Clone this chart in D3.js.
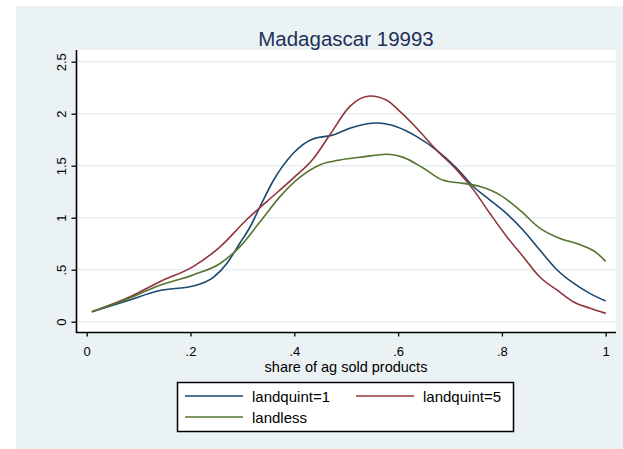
<!DOCTYPE html>
<html>
<head>
<meta charset="utf-8">
<script src="https://cdn.jsdelivr.net/npm/d3@7"></script>
<style>
  html, body { margin: 0; padding: 0; background: #ffffff; }
  svg { display: block; }
  text { font-family: "Liberation Sans", Arial, sans-serif; }
</style>
</head>
<body>
<svg id="chart" width="623" height="449"></svg>
<script>
// ---- data ----
const title = "Madagascar 19993";
const xLabel = "share of ag sold products";
const xTicks = [0, 0.2, 0.4, 0.6, 0.8, 1];
const xTickLabels = ["0", ".2", ".4", ".6", ".8", "1"];
const yTicks = [0, 0.5, 1, 1.5, 2, 2.5];
const yTickLabels = ["0", ".5", "1", "1.5", "2", "2.5"];
const seriesNames = ["landquint=1", "landquint=5", "landless"];
const seriesColors = ["#1a476f", "#90353b", "#55752f"];

const q1X = [0.01, 0.077, 0.141, 0.205, 0.244, 0.27, 0.295, 0.315, 0.334, 0.36, 0.398, 0.437, 0.475, 0.507, 0.559, 0.597, 0.636, 0.674, 0.713, 0.745, 0.777, 0.809, 0.841, 0.873, 0.906, 0.938, 0.97, 1.0];
const q1Y = [0.096, 0.20, 0.30, 0.343, 0.427, 0.56, 0.754, 0.913, 1.106, 1.36, 1.62, 1.76, 1.795, 1.86, 1.91, 1.875, 1.78, 1.65, 1.475, 1.30, 1.17, 1.04, 0.88, 0.69, 0.50, 0.37, 0.27, 0.20];

const q5X = [0.01, 0.077, 0.141, 0.205, 0.257, 0.308, 0.347, 0.398, 0.437, 0.469, 0.507, 0.546, 0.578, 0.604, 0.636, 0.674, 0.713, 0.745, 0.777, 0.809, 0.841, 0.873, 0.906, 0.938, 0.97, 1.0];
const q5Y = [0.096, 0.225, 0.385, 0.53, 0.72, 0.98, 1.155, 1.38, 1.57, 1.80, 2.07, 2.17, 2.13, 2.02, 1.86, 1.65, 1.46, 1.27, 1.04, 0.82, 0.625, 0.43, 0.305, 0.19, 0.13, 0.08];

const llX = [0.01, 0.077, 0.141, 0.205, 0.257, 0.295, 0.334, 0.372, 0.411, 0.45, 0.488, 0.533, 0.578, 0.61, 0.649, 0.687, 0.726, 0.758, 0.796, 0.835, 0.873, 0.912, 0.951, 0.983, 1.0];
const llY = [0.096, 0.215, 0.35, 0.45, 0.56, 0.72, 0.96, 1.20, 1.39, 1.51, 1.555, 1.585, 1.61, 1.58, 1.475, 1.36, 1.33, 1.30, 1.22, 1.07, 0.90, 0.80, 0.74, 0.66, 0.58];

const seriesX = [q1X, q5X, llX];
const seriesY = [q1Y, q5Y, llY];

// ---- drawing ----
const svg = d3.select("#chart");

// outer graph region
svg.append("rect").attr("x", 16).attr("y", 6).attr("width", 607).attr("height", 443).attr("fill", "#eaf2f3");

// plot region
const plot = { left: 76, right: 616, top: 50, bottom: 333 };
svg.append("rect").attr("x", plot.left).attr("y", plot.top)
  .attr("width", plot.right - plot.left).attr("height", plot.bottom - plot.top).attr("fill", "#ffffff");

const x = d3.scaleLinear().domain([0, 1]).range([86.7, 605.7]);
const y = d3.scaleLinear().domain([0, 2.5]).range([321.7, 61.7]);

// gridlines
svg.append("g").selectAll("line").data(yTicks).join("line")
  .attr("x1", plot.left + 1).attr("x2", plot.right)
  .attr("y1", d => y(d)).attr("y2", d => y(d))
  .attr("stroke", "#e6eef0").attr("stroke-width", 1.5);

// curves
const line = d3.line().x(d => x(d[0])).y(d => y(d[1])).curve(d3.curveMonotoneX);
seriesNames.forEach((name, i) => {
  const pts = seriesX[i].map((v, j) => [v, seriesY[i][j]]);
  svg.append("path").datum(pts).attr("d", line)
    .attr("fill", "none").attr("stroke", seriesColors[i]).attr("stroke-width", 1.6);
});

// axes
const xAxis = d3.axisBottom(x).tickValues(xTicks)
  .tickFormat((d, i) => xTickLabels[i]).tickSize(4).tickSizeOuter(0);
const gx = svg.append("g").attr("transform", `translate(0,${plot.bottom - 0.5})`).call(xAxis);
gx.select(".domain").attr("d", `M${plot.left},0H${plot.right}`).attr("stroke", "#000").attr("stroke-width", 1.6);
gx.selectAll(".tick line").attr("stroke", "#000").attr("stroke-width", 1.3);
gx.selectAll(".tick text").attr("y", 0).attr("dy", 0).attr("transform", "translate(0,23)")
  .attr("font-size", 13).attr("fill", "#000").attr("font-family", "Liberation Sans, Arial, sans-serif");

const yAxis = d3.axisLeft(y).tickValues(yTicks)
  .tickFormat((d, i) => yTickLabels[i]).tickSize(5).tickSizeOuter(0);
const gy = svg.append("g").attr("transform", `translate(${plot.left + 0.5},0)`).call(yAxis);
gy.select(".domain").attr("d", `M0,${plot.top}V${plot.bottom}`).attr("stroke", "#000").attr("stroke-width", 1.6);
gy.selectAll(".tick line").attr("stroke", "#000").attr("stroke-width", 1.3);
gy.selectAll(".tick text").attr("x", 0).attr("dy", 0)
  .attr("transform", "translate(-11,0) rotate(-90)")
  .attr("text-anchor", "middle").attr("font-size", 13).attr("fill", "#000")
  .attr("font-family", "Liberation Sans, Arial, sans-serif");

// title
svg.append("text").attr("x", 346).attr("y", 46).attr("text-anchor", "middle")
  .attr("font-size", 20.5).attr("fill", "#1f3057").text(title);

// x label
svg.append("text").attr("x", 346).attr("y", 372).attr("text-anchor", "middle")
  .attr("font-size", 14.5).attr("fill", "#000").text(xLabel);

// legend
const lg = svg.append("g");
lg.append("rect").attr("x", 177.5).attr("y", 382.5).attr("width", 336).attr("height", 49)
  .attr("fill", "#ffffff").attr("stroke", "#000").attr("stroke-width", 1.5);
const legendPos = [
  { lx: 185, ly: 396, tx: 252 },
  { lx: 356, ly: 396, tx: 423 },
  { lx: 185, ly: 417, tx: 252 }
];
seriesNames.forEach((name, i) => {
  const p = legendPos[i];
  lg.append("line").attr("x1", p.lx).attr("x2", p.lx + 58).attr("y1", p.ly).attr("y2", p.ly)
    .attr("stroke", seriesColors[i]).attr("stroke-width", 1.6);
  lg.append("text").attr("x", p.tx).attr("y", p.ly + 5.5).attr("font-size", 15)
    .attr("fill", "#000").text(name);
});
</script>
</body>
</html>
